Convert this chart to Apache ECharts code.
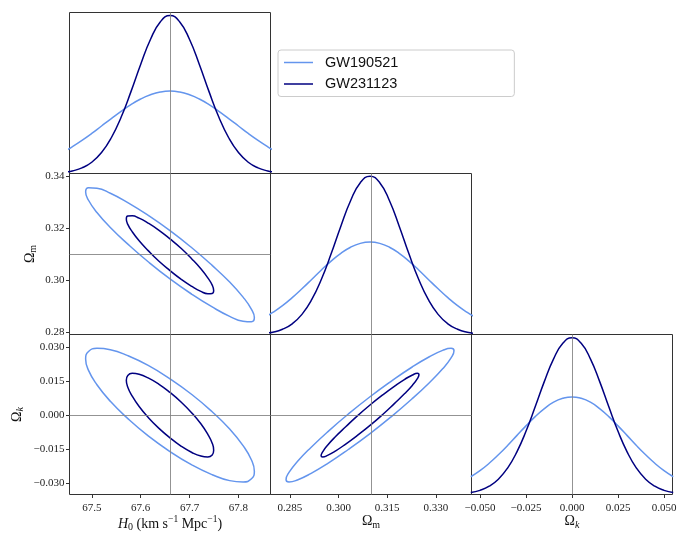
<!DOCTYPE html>
<html>
<head>
<meta charset="utf-8">
<script src="https://cdn.jsdelivr.net/npm/echarts@6.0.0/dist/echarts.min.js"></script>
<style>
  body { margin: 0; background: #fff; }
  #chart { width: 688px; height: 534px; }
</style>
</head>
<body>
<div id="chart"></div>
<script>
// series names and colours
var names = ['GW190521', 'GW231123'];
var colors = ['#6495ED', '#000080'];

// true values (grey cross-hair lines)
var h0True = 67.66;
var omTrue = 0.30966;
var okTrue = 0;

// axis ranges
var h0Range = [67.4545, 67.8655];
var omRange = [0.279, 0.341];
var okRangeX = [-0.0546, 0.0546];
var okRangeY = [-0.0349, 0.0355];

// tick labels
var h0Ticks = [67.5, 67.6, 67.7, 67.8];
var omTicksX = [0.285, 0.300, 0.315, 0.330];
var okTicksX = [-0.050, -0.025, 0, 0.025, 0.050];
var omTicksY = [0.28, 0.30, 0.32, 0.34];
var okTicksY = [-0.030, -0.015, 0, 0.015, 0.030];

// 1D marginals (height as fraction of the panel)
var h0X = [67.45, 67.46, 67.48, 67.50, 67.52, 67.54, 67.56, 67.58, 67.60, 67.62, 67.64, 67.66,
           67.68, 67.70, 67.72, 67.74, 67.76, 67.78, 67.80, 67.82, 67.84, 67.86, 67.87];
var h0Light = [0.148, 0.166, 0.206, 0.249, 0.295, 0.341, 0.386, 0.428, 0.463, 0.489, 0.506, 0.512,
               0.506, 0.489, 0.463, 0.428, 0.386, 0.341, 0.295, 0.249, 0.206, 0.166, 0.148];
var h0Dark = [0.0104, 0.0158, 0.0346, 0.0698, 0.130, 0.222, 0.349, 0.507, 0.677, 0.832, 0.941, 0.981,
              0.941, 0.832, 0.677, 0.507, 0.349, 0.222, 0.130, 0.0698, 0.0346, 0.0158, 0.0104];

var omX = [0.2767, 0.2797, 0.2827, 0.2857, 0.2887, 0.2917, 0.2947, 0.2977, 0.3007, 0.3037, 0.3067, 0.3097,
           0.3127, 0.3157, 0.3187, 0.3217, 0.3247, 0.3277, 0.3307, 0.3337, 0.3367, 0.3397, 0.3427];
var omLight = [0.101, 0.137, 0.179, 0.229, 0.284, 0.342, 0.401, 0.456, 0.504, 0.542, 0.566, 0.574,
               0.566, 0.542, 0.504, 0.456, 0.401, 0.342, 0.284, 0.229, 0.179, 0.137, 0.101];
var omDark = [0.0060, 0.0146, 0.0325, 0.0665, 0.125, 0.216, 0.343, 0.501, 0.673, 0.831, 0.943, 0.983,
              0.943, 0.831, 0.673, 0.501, 0.343, 0.216, 0.125, 0.0665, 0.0325, 0.0146, 0.0060];

var okX = [-0.055, -0.050, -0.045, -0.040, -0.035, -0.030, -0.025, -0.020, -0.015, -0.010, -0.005, 0,
           0.005, 0.010, 0.015, 0.020, 0.025, 0.030, 0.035, 0.040, 0.045, 0.050, 0.055];
var okLight = [0.111, 0.149, 0.195, 0.248, 0.306, 0.368, 0.429, 0.487, 0.537, 0.577, 0.601, 0.610,
               0.601, 0.577, 0.537, 0.487, 0.429, 0.368, 0.306, 0.248, 0.195, 0.149, 0.111];
var okDark = [0.0121, 0.0259, 0.0517, 0.0958, 0.165, 0.265, 0.395, 0.548, 0.707, 0.848, 0.945, 0.980,
              0.945, 0.848, 0.707, 0.548, 0.395, 0.265, 0.165, 0.0958, 0.0517, 0.0259, 0.0121];

// 2D contours, points read around each ellipse
var h0OmLight = [[67.8325,0.2855],[67.8266,0.2839],[67.8094,0.2841],[67.7820,0.2860],[67.7463,0.2896],[67.7046,0.2945],
  [67.6600,0.3004],[67.6154,0.3070],[67.5738,0.3138],[67.5380,0.3202],[67.5106,0.3260],[67.4934,0.3307],
  [67.4875,0.3339],[67.4934,0.3355],[67.5106,0.3353],[67.5380,0.3334],[67.5737,0.3298],[67.6154,0.3249],
  [67.6600,0.3190],[67.7046,0.3124],[67.7462,0.3056],[67.7820,0.2992],[67.8094,0.2934],[67.8266,0.2887]];
var h0OmDark = [[67.7493,0.2959],[67.7463,0.2948],[67.7373,0.2947],[67.7231,0.2956],[67.7047,0.2975],[67.6831,0.3002],
  [67.6600,0.3036],[67.6369,0.3073],[67.6154,0.3113],[67.5969,0.3151],[67.5827,0.3186],[67.5737,0.3214],
  [67.5707,0.3235],[67.5737,0.3246],[67.5827,0.3247],[67.5969,0.3238],[67.6153,0.3219],[67.6369,0.3192],
  [67.6600,0.3158],[67.6831,0.3121],[67.7046,0.3081],[67.7231,0.3043],[67.7373,0.3008],[67.7463,0.2980]];
var h0OkLight = [[67.8325,-0.0247],[67.8266,-0.0280],[67.8094,-0.0294],[67.7820,-0.0288],[67.7463,-0.0262],[67.7046,-0.0219],
  [67.6600,-0.0160],[67.6154,-0.0091],[67.5738,-0.0015],[67.5380,0.0061],[67.5106,0.0134],[67.4934,0.0197],
  [67.4875,0.0247],[67.4934,0.0280],[67.5106,0.0294],[67.5380,0.0288],[67.5737,0.0262],[67.6154,0.0219],
  [67.6600,0.0160],[67.7046,0.0091],[67.7462,0.0015],[67.7820,-0.0061],[67.8094,-0.0134],[67.8266,-0.0197]];
var h0OkDark = [[67.7493,-0.0154],[67.7463,-0.0175],[67.7373,-0.0184],[67.7231,-0.0180],[67.7047,-0.0164],[67.6831,-0.0137],
  [67.6600,-0.0100],[67.6369,-0.0057],[67.6154,-0.0010],[67.5969,0.0038],[67.5827,0.0084],[67.5737,0.0123],
  [67.5707,0.0154],[67.5737,0.0175],[67.5827,0.0184],[67.5969,0.0180],[67.6153,0.0164],[67.6369,0.0137],
  [67.6600,0.0100],[67.6831,0.0057],[67.7046,0.0010],[67.7231,-0.0038],[67.7373,-0.0084],[67.7463,-0.0123]];
var omOkLight = [[0.3356,0.0283],[0.3347,0.0294],[0.3321,0.0285],[0.3280,0.0257],[0.3227,0.0212],[0.3164,0.0151],
  [0.3097,0.0081],[0.3030,0.0005],[0.2968,-0.0071],[0.2914,-0.0143],[0.2873,-0.0204],[0.2847,-0.0252],
  [0.2838,-0.0283],[0.2847,-0.0294],[0.2873,-0.0285],[0.2914,-0.0257],[0.2967,-0.0212],[0.3030,-0.0151],
  [0.3097,-0.0081],[0.3164,-0.0005],[0.3226,0.0071],[0.3280,0.0143],[0.3321,0.0204],[0.3347,0.0252]];
var omOkDark = [[0.3248,0.0179],[0.3243,0.0184],[0.3228,0.0177],[0.3204,0.0158],[0.3173,0.0128],[0.3136,0.0089],
  [0.3097,0.0045],[0.3058,-0.0003],[0.3022,-0.0051],[0.2990,-0.0095],[0.2966,-0.0132],[0.2951,-0.0161],
  [0.2946,-0.0179],[0.2951,-0.0184],[0.2966,-0.0177],[0.2990,-0.0158],[0.3021,-0.0128],[0.3058,-0.0089],
  [0.3097,-0.0045],[0.3136,0.0003],[0.3172,0.0051],[0.3204,0.0095],[0.3228,0.0132],[0.3243,0.0161]];

var serif = "'Liberation Serif', 'DejaVu Serif', serif";
var ink = '#333';

// panel layout: 0 H0 | 1 H0-Om | 2 Om | 3 H0-Ok | 4 Om-Ok | 5 Ok
var cols = [69.5, 270.5, 471.5];
var rows = [[12.5, 161], [173.5, 161], [334.5, 160]];
var cells = [[0, 0], [1, 0], [1, 1], [2, 0], [2, 1], [2, 2]];

var grids = cells.map(function (c) {
    return {
        left: cols[c[1]], top: rows[c[0]][0], width: 201, height: rows[c[0]][1],
        show: true, borderColor: ink, borderWidth: 1, backgroundColor: 'transparent'
    };
});

function minus(s) { return s.replace('-', '\u2212'); }

var rich = {
    n: { fontFamily: serif, fontSize: 14, color: '#111' },
    it: { fontFamily: serif, fontSize: 14, fontStyle: 'italic', color: '#111' },
    sub: { fontFamily: serif, fontSize: 10, color: '#111', padding: [7, 0, 0, 0] },
    subi: { fontFamily: serif, fontSize: 10, fontStyle: 'italic', color: '#111', padding: [7, 0, 0, 0] },
    sup: { fontFamily: serif, fontSize: 9.5, color: '#111', padding: [0, 0, 9, 0] }
};

function axis(range, ticks, digits, name, nameGap, margin) {
    var on = !!ticks;
    return {
        type: 'value', min: range[0], max: range[1],
        axisLine: { show: false, onZero: false },
        splitLine: { show: false },
        axisTick: on ? { show: true, inside: false, length: 3.5, lineStyle: { color: ink }, customValues: ticks } : { show: false },
        axisLabel: on ? {
            show: true, customValues: ticks, margin: margin || 6,
            fontFamily: serif, fontSize: 11, color: '#222',
            formatter: function (v) { return minus(Number(v).toFixed(digits)); }
        } : { show: false },
        name: name || '', nameLocation: 'middle', nameGap: nameGap || 0,
        nameTextStyle: { rich: rich }
    };
}

var xAxes = [
    axis(h0Range), axis(h0Range), axis(omRange),
    axis(h0Range, h0Ticks, 1, '{it|H}{sub|0}{n| (km s}{sup|\u22121}{n| Mpc}{sup|\u22121}{n|)}', 15, 8),
    axis(omRange, omTicksX, 3, '{n|\u03A9}{sub|m}', 15, 8),
    axis(okRangeX, okTicksX, 3, '{n|\u03A9}{subi|k}', 15, 8)
];
var yAxes = [
    axis([0, 1]),
    axis(omRange, omTicksY, 2, '{n|\u03A9}{sub|m}', 31, 5),
    axis([0, 1]),
    axis(okRangeY, okTicksY, 3, '{n|\u03A9}{subi|k}', 44, 5),
    axis(okRangeY),
    axis([0, 1])
];
xAxes.forEach(function (a, i) { a.gridIndex = i; });
yAxes.forEach(function (a, i) { a.gridIndex = i; a.nameRotate = 90; });

function pairs(xs, ys) { return xs.map(function (x, i) { return [x, ys[i]]; }); }

// close an ellipse, starting mid-side so the join is smooth
function loop(pts) {
    var s = pts.slice(6).concat(pts.slice(0, 6));
    return [s[s.length - 1]].concat(s, [s[0], s[1]]);
}

function cross(vx, vy) {
    var d = [];
    if (vx !== null) d.push({ xAxis: vx });
    if (vy !== null) d.push({ yAxis: vy });
    return {
        silent: true, symbol: ['none', 'none'], animation: false,
        label: { show: false },
        lineStyle: { color: '#808080', width: 1, type: 'solid', opacity: 0.85 },
        data: d
    };
}

function curve(k, idx, data, mark) {
    var s = {
        type: 'line', name: names[k], xAxisIndex: idx, yAxisIndex: idx,
        data: data, showSymbol: false, symbol: 'none', smooth: 0.5,
        lineStyle: { color: colors[k], width: 1.5 }, itemStyle: { color: colors[k] },
        animation: false, silent: true, z: 3
    };
    if (mark) s.markLine = mark;
    return s;
}

var series = [
    curve(0, 0, pairs(h0X, h0Light), cross(h0True, null)),
    curve(1, 0, pairs(h0X, h0Dark)),
    curve(0, 1, loop(h0OmLight), cross(h0True, omTrue)),
    curve(1, 1, loop(h0OmDark)),
    curve(0, 2, pairs(omX, omLight), cross(omTrue, null)),
    curve(1, 2, pairs(omX, omDark)),
    curve(0, 3, loop(h0OkLight), cross(h0True, okTrue)),
    curve(1, 3, loop(h0OkDark)),
    curve(0, 4, loop(omOkLight), cross(omTrue, okTrue)),
    curve(1, 4, loop(omOkDark)),
    curve(0, 5, pairs(okX, okLight), cross(okTrue, null)),
    curve(1, 5, pairs(okX, okDark))
];

var chart = echarts.init(document.getElementById('chart'), null, { renderer: 'canvas' });
chart.setOption({
    backgroundColor: '#fff',
    animation: false,
    grid: grids,
    xAxis: xAxes,
    yAxis: yAxes,
    legend: {
        data: names.map(function (n, k) { return { name: n, icon: 'rect', itemStyle: { color: colors[k] } }; }),
        orient: 'vertical', left: 278, top: 50,
        itemWidth: 29, itemHeight: 1.5, itemGap: 6.5,
        padding: [5, 116, 5, 6],
        backgroundColor: '#fff', borderColor: '#ccc', borderWidth: 1, borderRadius: 3,
        selectedMode: false,
        textStyle: { fontFamily: "'Liberation Sans', Arial, sans-serif", fontSize: 14.5, color: '#111', padding: [0, 0, 0, 7] }
    },
    series: series
});
</script>
</body>
</html>
